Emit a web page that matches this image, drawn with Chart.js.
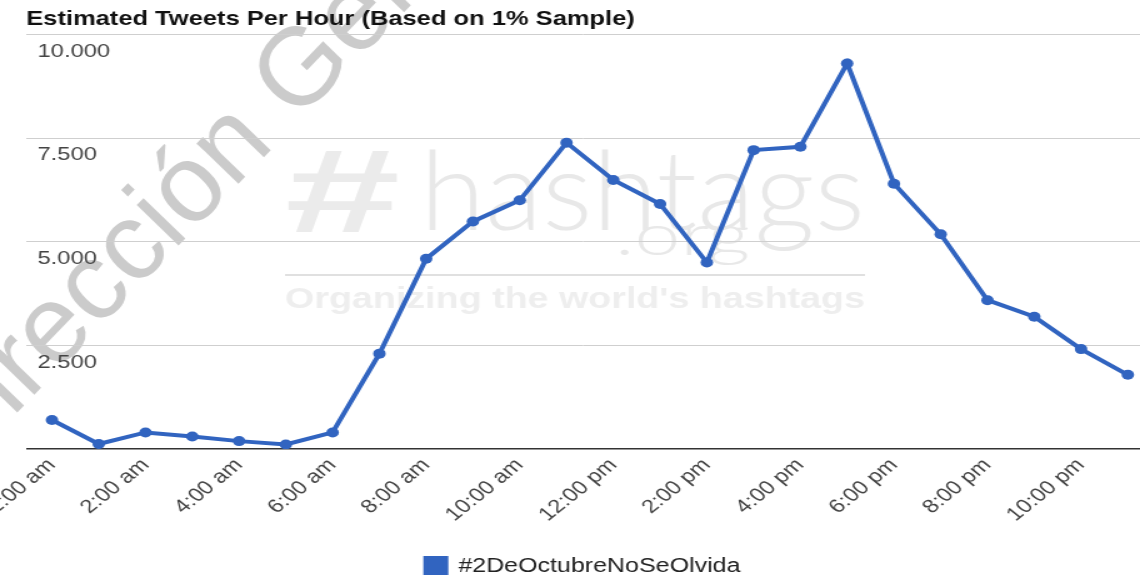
<!DOCTYPE html>
<html>
<head>
<meta charset="utf-8">
<script src="https://cdn.jsdelivr.net/npm/chart.js@4.4.0/dist/chart.umd.min.js"></script>
<style>
  html, body { margin: 0; padding: 0; background: #fff; overflow: hidden; }
  #myChart { display: block; }
</style>
</head>
<body>
<!-- the source picture is stretched sideways, so the canvas is drawn narrow and widened by css -->
<canvas id="myChart" width="912" height="575" style="width:1140px;height:575px"></canvas>
<script>
// Data ---------------
const chartTitle = 'Estimated Tweets Per Hour (Based on 1% Sample)';
const seriesName = '#2DeOctubreNoSeOlvida';
const hourLabels = ['12:00 am', '1:00 am', '2:00 am', '3:00 am', '4:00 am', '5:00 am',
  '6:00 am', '7:00 am', '8:00 am', '9:00 am', '10:00 am', '11:00 am',
  '12:00 pm', '1:00 pm', '2:00 pm', '3:00 pm', '4:00 pm', '5:00 pm',
  '6:00 pm', '7:00 pm', '8:00 pm', '9:00 pm', '10:00 pm', '11:00 pm'];
const tweets = [700, 120, 400, 300, 190, 110, 400, 2300, 4590, 5490, 6000, 7390,
  6490, 5910, 4500, 7210, 7290, 9300, 6400, 5180, 3590, 3190, 2410, 1790];
const xTickHours = [0, 2, 4, 6, 8, 10, 12, 14, 16, 18, 20, 22];
const yTicks = [0, 2500, 5000, 7500, 10000];

const STRETCH = 1140 / 912;
const blue = '#3164c0';
const fontFam = '"Liberation Sans", Arial, sans-serif';

function fmt(v) {
  return String(v).replace(/\B(?=(\d{3})+(?!\d))/g, '.');
}

// draws text squeezed/stretched to a given width
function fitText(ctx, text, x, y, w, font) {
  ctx.font = font;
  const m = ctx.measureText(text).width;
  ctx.save();
  ctx.translate(x, y);
  ctx.scale(w / m, 1);
  ctx.fillText(text, 0, 0);
  ctx.restore();
}

// Watermarks ---------------
const watermark = {
  id: 'watermark',
  beforeDraw(chart) {
    const ctx = chart.ctx;
    ctx.save();
    ctx.textBaseline = 'alphabetic';
    ctx.textAlign = 'left';
    ctx.fillStyle = '#ebebeb';
    fitText(ctx, '#', 228, 232, 92, 'bold 118px ' + fontFam);
    ctx.fillStyle = '#e8e8e8';
    fitText(ctx, 'hashtags', 336, 230, 356, '300 110px Lato, ' + fontFam);
    fitText(ctx, '.org', 492, 255, 108, '300 58px Lato, ' + fontFam);
    ctx.strokeStyle = '#e0e0e0';
    ctx.lineWidth = 2;
    ctx.beginPath();
    ctx.moveTo(228, 275);
    ctx.lineTo(692, 275);
    ctx.stroke();
    ctx.fillStyle = '#eeeeee';
    fitText(ctx, "Organizing the world's hashtags", 228, 308, 464, 'bold 29px ' + fontFam);
    ctx.restore();

    // the document stamp sits on top of the stretched picture, so undo the stretch
    ctx.save();
    ctx.scale(1 / STRETCH, 1);
    ctx.translate(-43, 475);
    ctx.rotate(-46 * Math.PI / 180);
    ctx.font = '110px ' + fontFam;
    ctx.fillStyle = '#cbcbcb';
    ctx.textBaseline = 'alphabetic';
    ctx.fillText('Dirección General', 0, 0);
    ctx.restore();
  }
};

// Graph---------------
const ctx = document.getElementById('myChart');

new Chart(ctx, {
  type: 'line',
  data: {
    datasets: [{
      label: seriesName,
      data: tweets.map((v, i) => ({ x: i, y: v })),
      borderColor: blue,
      backgroundColor: blue,
      borderWidth: 4,
      pointRadius: 5,
      pointBackgroundColor: blue,
      pointBorderWidth: 0,
      tension: 0
    }]
  },
  options: {
    responsive: false,
    animation: false,
    layout: { autoPadding: false, padding: { left: 21, right: 0, top: 0, bottom: -11 } },
    plugins: {
      title: {
        display: true,
        text: chartTitle,
        align: 'start',
        color: '#111',
        font: { family: fontFam, size: 20.4, weight: 'bold' },
        padding: { top: 7, bottom: 3 }
      },
      legend: {
        position: 'bottom',
        labels: {
          boxWidth: 16,
          boxHeight: 16,
          color: '#222',
          padding: 4,
          font: { family: fontFam, size: 20 }
        }
      },
      tooltip: { enabled: false }
    },
    scales: {
      x: {
        type: 'linear',
        min: -0.55,
        max: 23.26,
        grid: { display: false, drawTicks: false },
        border: { display: false },
        afterBuildTicks: axis => { axis.ticks = xTickHours.map(v => ({ value: v })); },
        afterFit: s => {
          // rotated labels may run off the canvas, as in the source
          s.height = 103;
          s.paddingLeft = 0;
          s.paddingRight = 0;
        },
        ticks: {
          autoSkip: false,
          minRotation: 45,
          maxRotation: 45,
          padding: 5,
          color: '#444',
          font: { family: fontFam, size: 19 },
          callback: v => hourLabels[v]
        }
      },
      y: {
        min: 0,
        max: 10000,
        afterBuildTicks: axis => { axis.ticks = yTicks.map(v => ({ value: v })); },
        afterFit: s => { s.width = 0; },
        grid: {
          drawTicks: false,
          color: c => c.tick.value === 0 ? '#333' : '#cfcfcf',
          lineWidth: c => c.tick.value === 0 ? 1.5 : 1
        },
        border: { display: false },
        ticks: {
          mirror: true,
          padding: 9,
          labelOffset: 17,
          color: '#444',
          font: { family: fontFam, size: 19 },
          callback: v => v === 0 ? '' : fmt(v)
        }
      }
    }
  },
  plugins: [watermark]
});
</script>
</body>
</html>
